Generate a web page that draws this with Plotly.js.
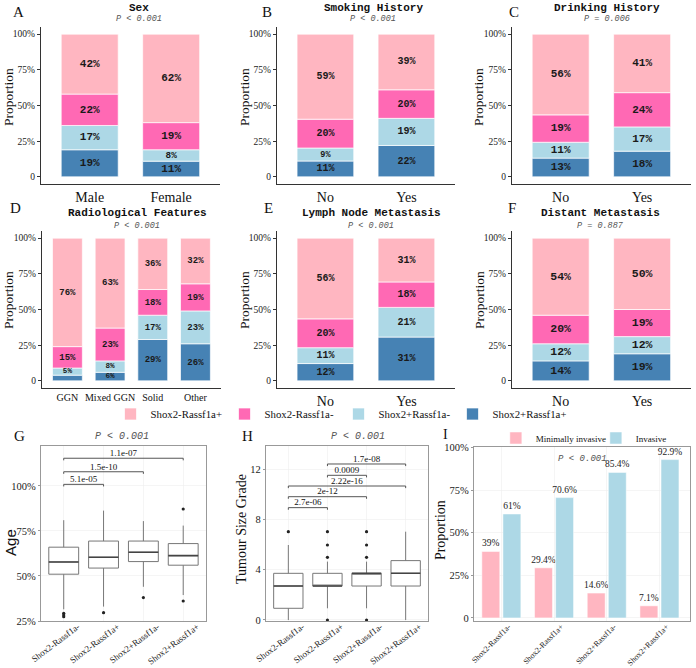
<!DOCTYPE html>
<html>
<head>
<meta charset="utf-8">
<script src="https://cdn.plot.ly/plotly-3.0.1.min.js"></script>
<style>
  html, body { margin: 0; padding: 0; background: #ffffff; }
  #chart { width: 696px; height: 668px; }
</style>
</head>
<body>
<div id="chart"></div>
<script>
// ---- Subgroups (stack order: bottom first) ----
const stackGroups = ['Shox2+Rassf1a+', 'Shox2+Rassf1a-', 'Shox2-Rassf1a-', 'Shox2-Rassf1a+'];
const stackColors = ['#4682B4', '#ADD8E6', '#FF69B4', '#FFB6C1'];

// ---- Stacked proportion panels: values per category, bottom -> top (%) ----
const sexCategories = ['Male', 'Female'];
const sexValues = [[19, 17, 22, 42], [11, 8, 19, 62]];

const smokingCategories = ['No', 'Yes'];
const smokingValues = [[11, 9, 20, 59], [22, 19, 20, 39]];

const drinkingCategories = ['No', 'Yes'];
const drinkingValues = [[13, 11, 19, 56], [18, 17, 24, 41]];

const radiologyCategories = ['GGN', 'Mixed GGN', 'Solid', 'Other'];
const radiologyValues = [[4, 5, 15, 76], [6, 8, 23, 63], [29, 17, 18, 36], [26, 23, 19, 32]];

const lymphCategories = ['No', 'Yes'];
const lymphValues = [[12, 11, 20, 56], [31, 21, 18, 31]];

const distantCategories = ['No', 'Yes'];
const distantValues = [[14, 12, 20, 54], [19, 12, 19, 50]];

const panelTitles = ['Sex', 'Smoking History', 'Drinking History', 'Radiological Features', 'Lymph Node Metastasis', 'Distant Metastasis'];
const panelPValues = ['P < 0.001', 'P < 0.001', 'P = 0.006', 'P < 0.001', 'P < 0.001', 'P = 0.887'];

// ---- Box plot panels ----
const boxGroups = ['Shox2-Rassf1a-', 'Shox2-Rassf1a+', 'Shox2+Rassf1a-', 'Shox2+Rassf1a+'];

const ageLower  = [31.5, 33.0, 44.0, 39.4];
const ageQ1     = [51.0, 54.4, 58.0, 56.0];
const ageMedian = [57.8, 60.4, 63.2, 61.3];
const ageQ3     = [66.0, 69.4, 69.4, 68.0];
const ageUpper  = [81.0, 86.3, 80.5, 78.0];
const ageOutliers = [[29.3, 28.3, 27.4], [29.6], [38.0], [87.2, 36.1]];
const agePairs  = [[1, 2], [1, 3], [1, 4]];
const agePairY  = [100.9, 107.9, 115.4];
const agePairP  = ['5.1e-05', '1.5e-10', '1.1e-07'];

const sizeLower  = [0.0, 0.93, 0.93, 0.0];
const sizeQ1     = [0.93, 2.7, 2.7, 2.7];
const sizeMedian = [2.7, 2.7, 3.71, 3.71];
const sizeQ3     = [3.71, 3.71, 3.71, 4.72];
const sizeUpper  = [5.96, 4.64, 4.64, 7.02];
const sizeOutliers = [[7.02], [4.98, 5.96, 7.02, 0.0], [4.98, 5.96, 7.02, 0.0], []];
const sizePairs = [[1, 2], [1, 3], [1, 4], [2, 3], [2, 4]];
const sizePairY = [8.93, 9.8, 10.65, 11.5, 12.4];
const sizePairP = ['2.7e-06', '2e-12', '2.22e-16', '0.0009', '1.7e-08'];

// ---- Invasiveness panel (%) ----
const invasionNames = ['Minimally invasive', 'Invasive'];
const minimallyInvasive = [39, 29.4, 14.6, 7.1];
const invasive = [61, 70.6, 85.4, 92.9];

// ---- Page geometry helpers ----
const W = 696, H = 668;
const xd = (a, b) => [a / W, b / W];
const yd = (top, bot) => [1 - bot / H, 1 - top / H];
const px = (x) => x / W;
const py = (y) => 1 - y / H;

const SERIF = 'Liberation Serif, Times New Roman, serif';
const MONO = 'Liberation Mono, Courier New, monospace';
const SANS = 'Liberation Sans, Arial, sans-serif';

const stackPanels = [
  { letter: 'A', cats: sexCategories,       vals: sexValues,       box: [41, 221, 27, 184],  fs: 11,   tickfs: 14, letterXY: [19, 12],  titleX: 140, titleY: 8,   pY: 19,  ytX: 8,   ytY: 97 },
  { letter: 'B', cats: smokingCategories,   vals: smokingValues,   box: [278, 457, 27, 184], fs: 10,   tickfs: 14, letterXY: [268, 12], titleX: 375, titleY: 8,   pY: 19,  ytX: 245, ytY: 97 },
  { letter: 'C', cats: drinkingCategories,  vals: drinkingValues,  box: [514, 694, 27, 184], fs: 11,   tickfs: 14, letterXY: [516, 12], titleX: 610, titleY: 8,   pY: 19,  ytX: 480, ytY: 97 },
  { letter: 'D', cats: radiologyCategories, vals: radiologyValues, box: [42, 222, 231, 388], fs: 9,    tickfs: 10, letterXY: [16, 208], titleX: 138, titleY: 213, pY: 226, ytX: 8,   ytY: 300 },
  { letter: 'E', cats: lymphCategories,     vals: lymphValues,     box: [278, 457, 231, 388], fs: 10,  tickfs: 14, letterXY: [270, 208], titleX: 373, titleY: 213, pY: 226, ytX: 245, ytY: 300 },
  { letter: 'F', cats: distantCategories,   vals: distantValues,   box: [514, 694, 231, 388], fs: 11.5, tickfs: 14, letterXY: [514, 208], titleX: 603, titleY: 213, pY: 226, ytX: 481, ytY: 300 }
];

const traces = [];
const layout = {
  width: W, height: H,
  margin: { l: 0, r: 0, t: 0, b: 0 },
  paper_bgcolor: '#ffffff', plot_bgcolor: 'rgba(0,0,0,0)',
  barmode: 'overlay',
  showlegend: true,
  font: { family: SERIF, color: '#111' },
  annotations: [],
  legend: {
    orientation: 'h', x: px(111), xanchor: 'left', y: py(414), yanchor: 'middle',
    font: { family: SERIF, size: 10.8, color: '#111' },
    traceorder: 'reversed', entrywidth: 69, bgcolor: 'rgba(0,0,0,0)'
  },
  legend2: {
    orientation: 'h', x: px(498), xanchor: 'left', y: py(438), yanchor: 'middle',
    font: { family: SERIF, size: 9, color: '#111' },
    entrywidth: 55, bgcolor: 'rgba(0,0,0,0)'
  }
};

const sum = (arr) => arr.reduce((s, v) => s + v, 0);

function axisKeys(i) {
  const n = i === 0 ? '' : String(i + 1);
  return { xa: 'x' + n, ya: 'y' + n, xk: 'xaxis' + n, yk: 'yaxis' + n };
}

function addText(text, x, y, font, angle) {
  layout.annotations.push({
    xref: 'paper', yref: 'paper', x: px(x), y: py(y), text, showarrow: false,
    xanchor: 'center', yanchor: 'middle', textangle: angle || 0, font
  });
}
const letterFont = { family: SERIF, size: 15, color: '#111' };

// ---- Stacked proportion bars (A-F) ----
stackPanels.forEach((p, i) => {
  const k = axisKeys(i);
  const totals = p.vals.map(sum);
  for (let g = 0; g < stackGroups.length; g++) {
    traces.push({
      type: 'bar', x: p.cats,
      y: p.vals.map((v, c) => v[g] / totals[c]),
      base: p.vals.map((v, c) => sum(v.slice(0, g)) / totals[c]),
      width: 0.7,
      marker: { color: stackColors[g], line: { color: '#ffffff', width: 0.7 } },
      name: stackGroups[g], legend: 'legend', showlegend: i === 0,
      xaxis: k.xa, yaxis: k.ya, hoverinfo: 'skip'
    });
  }
  // Percentage labels centred in each segment
  const tx = [], ty = [], tt = [], ts = [];
  p.vals.forEach((v, c) => {
    v.forEach((val, g) => {
      if (val < 5) return;
      const base = sum(v.slice(0, g)) / totals[c];
      tx.push(p.cats[c]);
      ty.push(base + val / totals[c] / 2);
      tt.push(val + '%');
      ts.push(val < 10 ? p.fs * 0.85 : p.fs);
    });
  });
  traces.push({
    type: 'scatter', mode: 'text', x: tx, y: ty, text: tt,
    textfont: { family: MONO, size: ts, color: '#1a1a1a', weight: 'bold' },
    xaxis: k.xa, yaxis: k.ya, showlegend: false, hoverinfo: 'skip', cliponaxis: false
  });

  const [x0, x1, t, b] = p.box;
  layout[k.xk] = {
    domain: xd(x0, x1), anchor: k.ya, type: 'category',
    range: [-0.6, p.cats.length - 0.4],
    showline: true, linecolor: '#333', linewidth: 1,
    ticks: '', ticklabelstandoff: 0,
    tickfont: { family: SERIF, size: p.tickfs, color: '#111' },
    showgrid: false, zeroline: false, fixedrange: true
  };
  layout[k.yk] = {
    domain: yd(t, b), anchor: k.xa, range: [-0.05, 1.05],
    tickvals: [0, 0.25, 0.5, 0.75, 1], ticktext: ['0', '25%', '50%', '75%', '100%'],
    showline: true, linecolor: '#333', linewidth: 1,
    ticks: 'outside', ticklen: 3, tickcolor: '#333',
    tickfont: { family: SERIF, size: 9.5, color: '#222' },
    showgrid: false, zeroline: false, fixedrange: true
  };

  addText(p.letter, p.letterXY[0], p.letterXY[1], letterFont);
  addText('<b>' + panelTitles[i] + '</b>', p.titleX, p.titleY, { family: MONO, size: 11, color: '#111' });
  addText('<i>' + panelPValues[i] + '</i>', p.titleX, p.pY, { family: MONO, size: 8.5, color: '#555' });
  addText('Proportion', p.ytX, p.ytY, { family: SERIF, size: 13.5, color: '#111' }, -90);
});

// ---- Box plots (G, H) ----
function addBoxPanel(idx, stats, outliers, pairs, pairY, pairP, yRange, tickvals, ticktext, box) {
  const k = axisKeys(idx);
  const pos = boxGroups.map((_, j) => j + 1);
  traces.push({
    type: 'box', x: pos, q1: stats.q1, median: stats.median, q3: stats.q3,
    lowerfence: stats.lower, upperfence: stats.upper,
    width: 0.75, whiskerwidth: 0, boxpoints: false,
    fillcolor: '#ffffff', line: { color: '#777', width: 1 },
    xaxis: k.xa, yaxis: k.ya, showlegend: false, hoverinfo: 'skip'
  });
  // Emphasised median lines
  const mx = [], my = [];
  stats.median.forEach((m, j) => { mx.push(j + 1 - 0.375, j + 1 + 0.375, null); my.push(m, m, null); });
  traces.push({
    type: 'scatter', mode: 'lines', x: mx, y: my, line: { color: '#444', width: 1.6 },
    xaxis: k.xa, yaxis: k.ya, showlegend: false, hoverinfo: 'skip'
  });
  // Outlying points
  const ox = [], oy = [];
  outliers.forEach((arr, j) => arr.forEach(v => { ox.push(j + 1); oy.push(v); }));
  traces.push({
    type: 'scatter', mode: 'markers', x: ox, y: oy,
    marker: { color: '#222', size: 3.2 }, cliponaxis: false,
    xaxis: k.xa, yaxis: k.ya, showlegend: false, hoverinfo: 'skip'
  });
  // Pairwise comparison brackets
  const tip = (yRange[1] - yRange[0]) * 0.012;
  const bx = [], by = [], lx = [], ly = [];
  pairs.forEach(([a, b], j) => {
    bx.push(a, a, b, b, null);
    by.push(pairY[j] - tip, pairY[j], pairY[j], pairY[j] - tip, null);
    lx.push((a + b) / 2); ly.push(pairY[j]);
  });
  traces.push({
    type: 'scatter', mode: 'lines', x: bx, y: by, line: { color: '#555', width: 1 },
    xaxis: k.xa, yaxis: k.ya, showlegend: false, hoverinfo: 'skip'
  });
  traces.push({
    type: 'scatter', mode: 'text', x: lx, y: ly, text: pairP, textposition: 'top center',
    textfont: { family: SERIF, size: 9, color: '#111' },
    xaxis: k.xa, yaxis: k.ya, showlegend: false, hoverinfo: 'skip', cliponaxis: false
  });

  const [x0, x1, t, b] = box;
  layout[k.xk] = {
    domain: xd(x0, x1), anchor: k.ya, range: [0.425, 4.575],
    tickvals: pos, ticktext: boxGroups, tickangle: -37, ticklabelshift: 14,
    tickfont: { family: SERIF, size: 9, color: '#222' },
    showline: true, mirror: true, linecolor: '#999', linewidth: 1,
    ticks: '', ticklabelstandoff: -4,
    showgrid: true, gridcolor: '#eeeeee', gridwidth: 0.6, zeroline: false, fixedrange: true
  };
  layout[k.yk] = {
    domain: yd(t, b), anchor: k.xa, range: yRange, tickvals, ticktext,
    tickfont: { family: SERIF, size: 10.5, color: '#222' },
    showline: true, mirror: true, linecolor: '#999', linewidth: 1,
    ticks: 'outside', ticklen: 2, tickcolor: '#999',
    showgrid: true, gridcolor: '#eeeeee', gridwidth: 0.6, zeroline: false, fixedrange: true
  };
}

addBoxPanel(6,
  { lower: ageLower, q1: ageQ1, median: ageMedian, q3: ageQ3, upper: ageUpper },
  ageOutliers, agePairs, agePairY, agePairP,
  [25, 122.2], [25, 50, 75, 100], ['25%', '50%', '75%', '100%'], [41, 207, 446, 621]);

addBoxPanel(7,
  { lower: sizeLower, q1: sizeQ1, median: sizeMedian, q3: sizeQ3, upper: sizeUpper },
  sizeOutliers, sizePairs, sizePairY, sizePairP,
  [-0.08, 13.83], [0, 4, 8, 12], ['0', '4', '8', '12'], [267, 430, 446, 621]);

addText('G', 20, 436, letterFont);
addText('H', 249, 436, letterFont);
addText('I', 447, 434, { family: SERIF, size: 14, color: '#111' });
addText('<i>P < 0.001</i>', 123, 436, { family: MONO, size: 10, color: '#555' });
addText('<i>P < 0.001</i>', 360, 436, { family: MONO, size: 10, color: '#555' });
addText('Age', 10, 542, { family: SANS, size: 15, color: '#111' }, -90);
addText('Tumour Size Grade', 242, 529, { family: SERIF, size: 14, color: '#111' }, -90);
addText('Proportion', 442, 530, { family: SERIF, size: 14, color: '#111' }, -90);

// ---- Grouped invasiveness bars (I) ----
const pos9 = boxGroups.map((_, j) => j + 1);
[[minimallyInvasive, '#FFB6C1', -0.37], [invasive, '#ADD8E6', 0.03]].forEach(([vals, col, off], j) => {
  traces.push({
    type: 'bar', x: pos9, y: vals, offset: off, width: 0.34,
    marker: { color: col, line: { color: '#ffffff', width: 0.5 } },
    text: vals.map(v => v + '%'), textposition: 'outside', cliponaxis: false, constraintext: 'none',
    textfont: { family: SERIF, size: 9.5, color: '#222' },
    name: invasionNames[j], legend: 'legend2', showlegend: true,
    xaxis: 'x9', yaxis: 'y9', hoverinfo: 'skip'
  });
});
layout.xaxis9 = {
  domain: xd(476, 693), anchor: 'y9', range: [0.48, 4.58],
  tickvals: pos9, ticktext: boxGroups, tickangle: -45, ticklabelshift: 7,
  tickfont: { family: SERIF, size: 8, color: '#222' },
  showline: true, mirror: true, linecolor: '#999', linewidth: 1,
  ticks: '', ticklabelstandoff: -3,
  showgrid: true, gridcolor: '#eeeeee', gridwidth: 0.6, zeroline: false, fixedrange: true
};
layout.yaxis9 = {
  domain: yd(447, 621), anchor: 'x9', range: [-1.8, 100.3],
  tickvals: [0, 25, 50, 75, 100], ticktext: ['0', '25%', '50%', '75%', '100%'],
  tickfont: { family: SERIF, size: 10.5, color: '#222' },
  showline: true, mirror: true, linecolor: '#999', linewidth: 1,
  ticks: 'outside', ticklen: 2, tickcolor: '#999',
  showgrid: true, gridcolor: '#eeeeee', gridwidth: 0.6, zeroline: false, fixedrange: true
};
addText('<i>P < 0.001</i>', 585, 459, { family: MONO, size: 9, color: '#555' });

Plotly.newPlot('chart', traces, layout, { staticPlot: true, displayModeBar: false });
</script>
</body>
</html>
